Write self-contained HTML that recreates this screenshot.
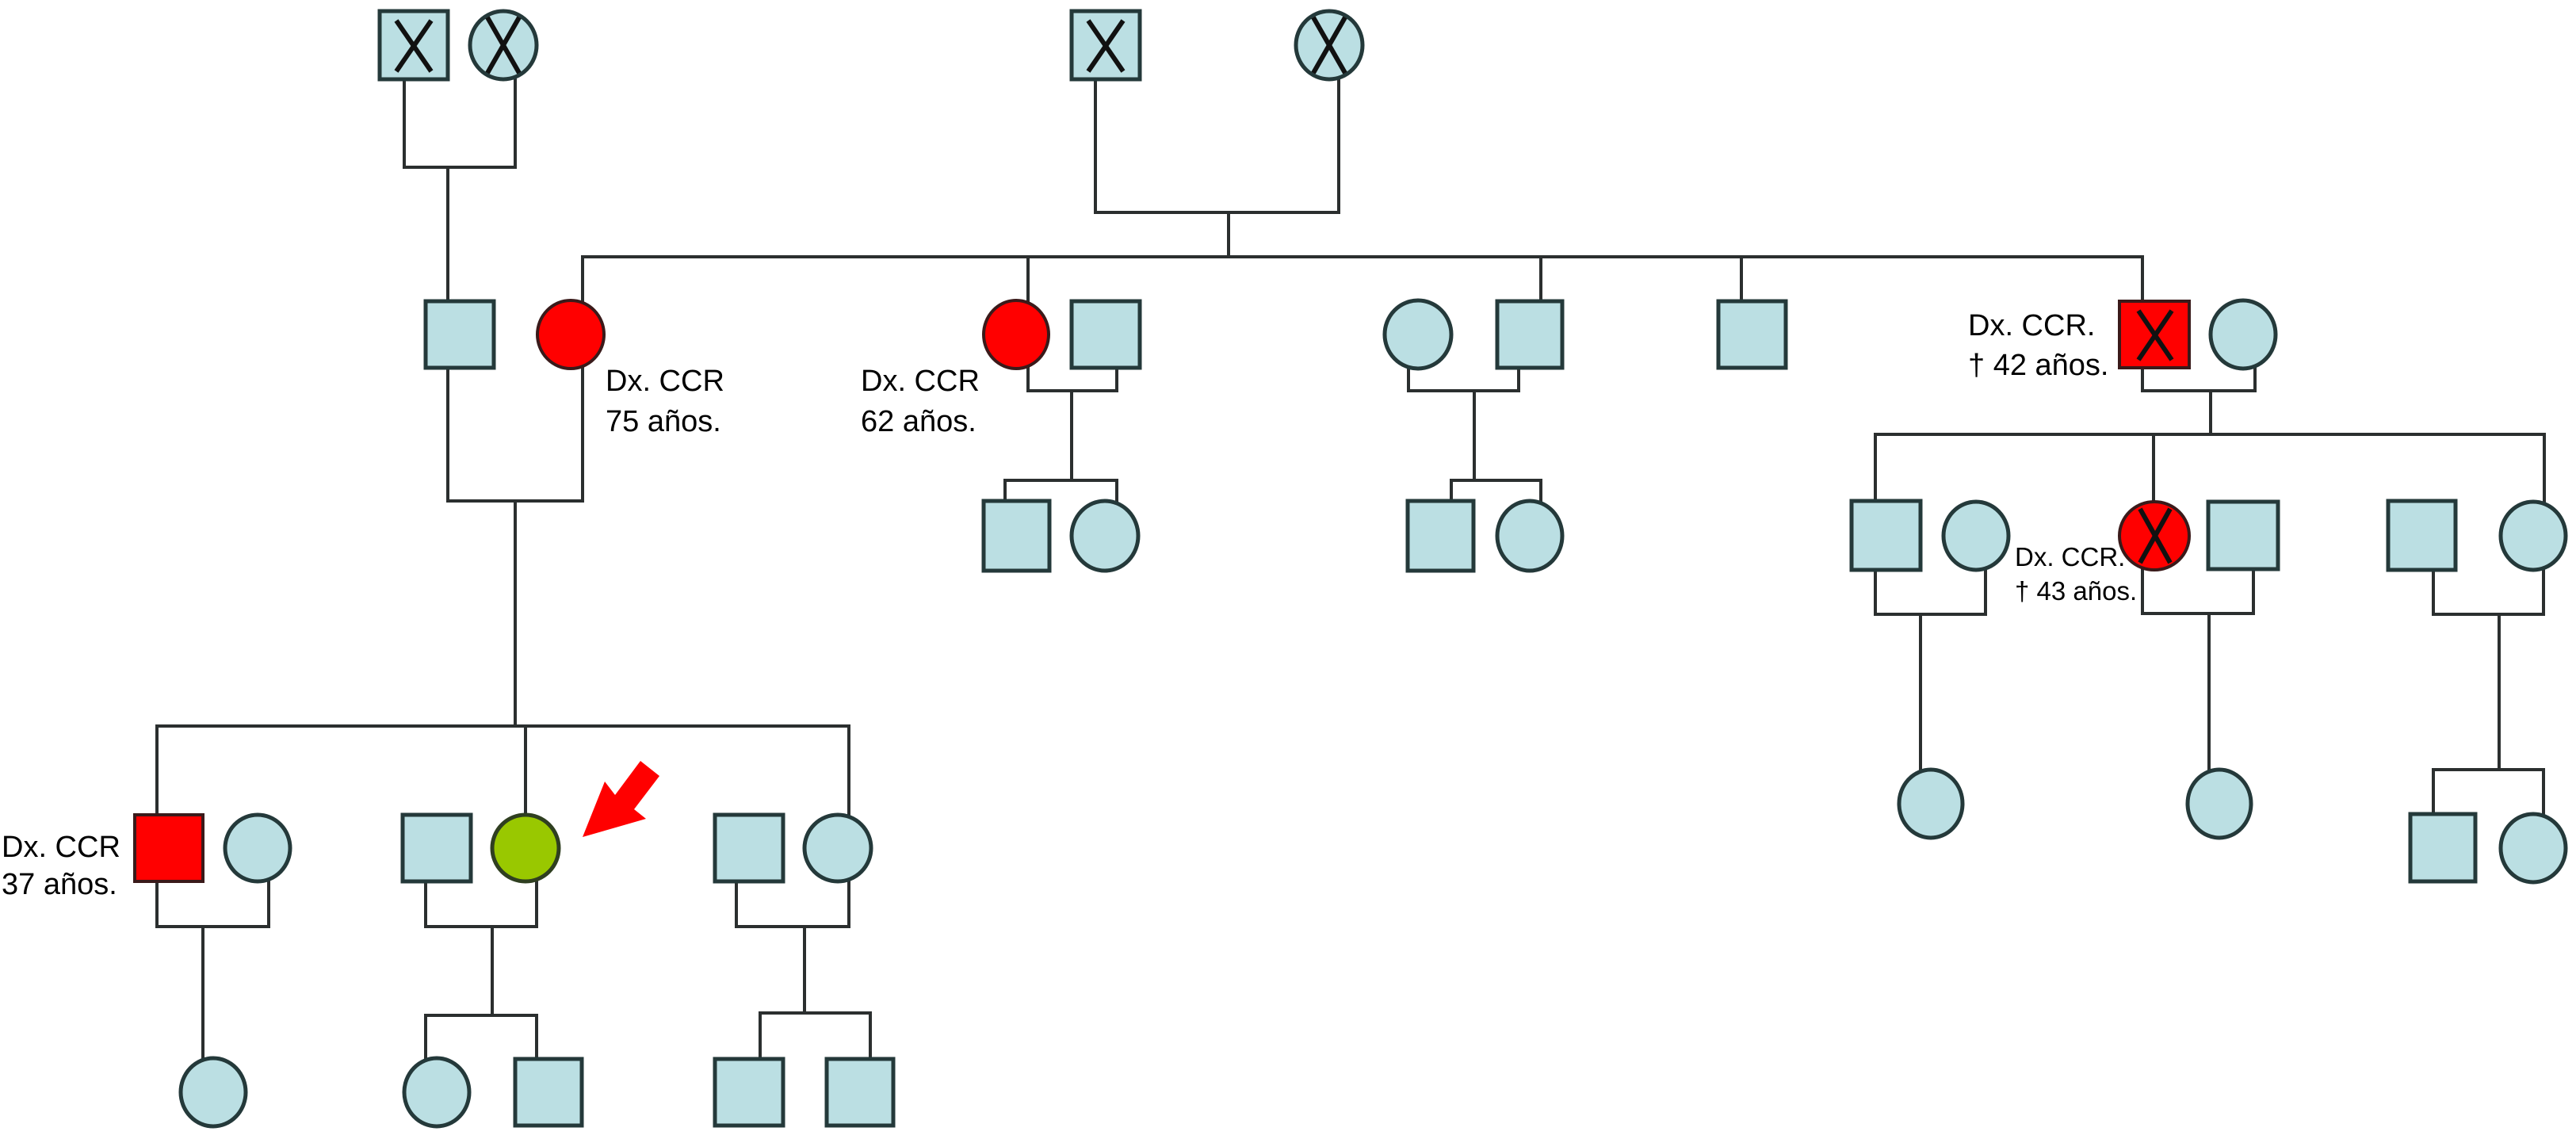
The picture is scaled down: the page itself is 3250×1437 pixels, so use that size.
<!DOCTYPE html>
<html><head><meta charset="utf-8"><style>
html,body{margin:0;padding:0;background:#fff;}
svg{display:block;}
text{font-family:"Liberation Sans",Arial,sans-serif;fill:#000;}
</style></head><body>
<svg width="3250" height="1437" viewBox="0 0 3250 1437" xmlns="http://www.w3.org/2000/svg">
<defs>
<style>
.l{stroke:#2b2f2f;stroke-width:4;fill:none;stroke-linecap:square}
.b{fill:#bbdfe3;stroke:#24393a;stroke-width:5}
.r{fill:#ff0000;stroke:#3a1a1a;stroke-width:4}
.g{fill:#99c800;stroke:#2f3f20;stroke-width:5}
.x{stroke:#111;stroke-width:6;fill:none}
.t{font-size:38px}
.s{font-size:33px}
</style>
</defs>
<!-- lines -->
<g class="l">
<!-- top-left grandparents -->
<polyline points="510,100 510,211 650,211 650,100"/>
<line x1="565" y1="211" x2="565" y2="380"/>
<!-- top-center grandparents -->
<polyline points="1382,100 1382,268 1689,268 1689,100"/>
<line x1="1550" y1="268" x2="1550" y2="324"/>
<!-- sibship gen2 -->
<line x1="735" y1="324" x2="2703" y2="324"/>
<line x1="735" y1="324" x2="735" y2="380"/>
<line x1="1297" y1="324" x2="1297" y2="380"/>
<line x1="1944" y1="324" x2="1944" y2="380"/>
<line x1="2197" y1="324" x2="2197" y2="380"/>
<line x1="2703" y1="324" x2="2703" y2="380"/>
<!-- couple 1 -->
<polyline points="565,464 565,632 735,632 735,464"/>
<line x1="650" y1="632" x2="650" y2="916"/>
<line x1="198" y1="916" x2="1071" y2="916"/>
<line x1="198" y1="916" x2="198" y2="1028"/>
<line x1="650" y1="916" x2="663" y2="916"/>
<line x1="663" y1="916" x2="663" y2="1028"/>
<line x1="1071" y1="916" x2="1071" y2="1028"/>
<!-- couple 2 -->
<polyline points="1297,464 1297,493 1409,493 1409,464"/>
<line x1="1352" y1="493" x2="1352" y2="606"/>
<polyline points="1268,632 1268,606 1409,606 1409,632"/>
<!-- couple 3 -->
<polyline points="1777,464 1777,493 1916,493 1916,464"/>
<line x1="1860" y1="493" x2="1860" y2="606"/>
<polyline points="1831,632 1831,606 1944,606 1944,632"/>
<!-- couple 5 -->
<polyline points="2703,464 2703,493 2845,493 2845,464"/>
<line x1="2789" y1="493" x2="2789" y2="548"/>
<line x1="2366" y1="548" x2="3210" y2="548"/>
<line x1="2366" y1="548" x2="2366" y2="632"/>
<line x1="2717" y1="548" x2="2717" y2="633"/>
<line x1="3210" y1="548" x2="3210" y2="632"/>
<!-- gen3 right couples -->
<polyline points="2366,718 2366,775 2505,775 2505,718"/>
<line x1="2423" y1="775" x2="2423" y2="971"/>
<polyline points="2703,718 2703,774 2843,774 2843,718"/>
<line x1="2787" y1="774" x2="2787" y2="971"/>
<polyline points="3070,718 3070,775 3209,775 3209,718"/>
<line x1="3153" y1="775" x2="3153" y2="971"/>
<polyline points="3070,1027 3070,971 3209,971 3209,1027"/>
<!-- gen3 left couples -->
<polyline points="198,1112 198,1169 339,1169 339,1112"/>
<line x1="256" y1="1169" x2="256" y2="1336"/>
<polyline points="537,1112 537,1169 677,1169 677,1112"/>
<line x1="621" y1="1169" x2="621" y2="1281"/>
<polyline points="537,1336 537,1281 677,1281 677,1336"/>
<polyline points="929,1112 929,1169 1071,1169 1071,1112"/>
<line x1="1015" y1="1169" x2="1015" y2="1278"/>
<polyline points="959,1336 959,1278 1098,1278 1098,1336"/>
</g>

<!-- gen1 -->
<rect class="b" x="479" y="14" width="86" height="86"/>
<line class="x" x1="500" y1="26" x2="544" y2="90"/><line class="x" x1="544" y1="26" x2="500" y2="90"/>
<ellipse class="b" cx="635" cy="57" rx="42" ry="43"/>
<line class="x" x1="615" y1="22" x2="655" y2="92"/><line class="x" x1="655" y1="22" x2="615" y2="92"/>
<rect class="b" x="1352" y="14" width="86" height="86"/>
<line class="x" x1="1373" y1="26" x2="1417" y2="90"/><line class="x" x1="1417" y1="26" x2="1373" y2="90"/>
<ellipse class="b" cx="1677" cy="57" rx="42" ry="43"/>
<line class="x" x1="1657" y1="22" x2="1697" y2="92"/><line class="x" x1="1697" y1="22" x2="1657" y2="92"/>

<!-- gen2 -->
<rect class="b" x="537" y="380" width="86" height="84"/>
<ellipse class="r" cx="720" cy="422" rx="42" ry="43"/>
<ellipse class="r" cx="1282" cy="422" rx="41" ry="43"/>
<rect class="b" x="1352" y="380" width="86" height="84"/>
<ellipse class="b" cx="1789" cy="422" rx="42" ry="43"/>
<rect class="b" x="1889" y="380" width="82" height="84"/>
<rect class="b" x="2168" y="380" width="85" height="84"/>
<rect class="r" x="2674" y="380" width="88" height="84"/>
<line class="x" x1="2698" y1="392" x2="2740" y2="454"/><line class="x" x1="2740" y1="392" x2="2698" y2="454"/>
<ellipse class="b" cx="2830" cy="422" rx="41" ry="43"/>

<!-- gen3 middle/right -->
<rect class="b" x="1241" y="632" width="83" height="88"/>
<ellipse class="b" cx="1394" cy="676" rx="42" ry="44"/>
<rect class="b" x="1776" y="632" width="83" height="88"/>
<ellipse class="b" cx="1930" cy="676" rx="41" ry="44"/>
<rect class="b" x="2336" y="632" width="87" height="87"/>
<ellipse class="b" cx="2493" cy="676" rx="41" ry="43"/>
<ellipse class="r" cx="2718" cy="676" rx="44" ry="43"/>
<line class="x" x1="2700" y1="642" x2="2738" y2="710"/><line class="x" x1="2738" y1="642" x2="2700" y2="710"/>
<rect class="b" x="2786" y="633" width="88" height="85"/>
<rect class="b" x="3013" y="632" width="85" height="87"/>
<ellipse class="b" cx="3196" cy="676" rx="41" ry="43"/>

<!-- gen4 right -->
<ellipse class="b" cx="2436" cy="1014" rx="40" ry="43"/>
<ellipse class="b" cx="2800" cy="1014" rx="40" ry="43"/>
<rect class="b" x="3041" y="1027" width="82" height="85"/>
<ellipse class="b" cx="3196" cy="1070" rx="41" ry="43"/>

<!-- gen3 left -->
<rect class="r" x="170" y="1028" width="86" height="84"/>
<ellipse class="b" cx="325" cy="1070" rx="41" ry="42"/>
<rect class="b" x="508" y="1028" width="86" height="84"/>
<ellipse class="g" cx="663" cy="1070" rx="42" ry="42"/>
<rect class="b" x="902" y="1028" width="86" height="84"/>
<ellipse class="b" cx="1057" cy="1070" rx="42" ry="42"/>

<!-- gen4 left -->
<ellipse class="b" cx="269" cy="1378" rx="41" ry="43"/>
<ellipse class="b" cx="551" cy="1378" rx="41" ry="43"/>
<rect class="b" x="650" y="1336" width="84" height="84"/>
<rect class="b" x="902" y="1336" width="86" height="84"/>
<rect class="b" x="1043" y="1336" width="84" height="84"/>

<!-- arrow -->
<polygon points="735,1056 763,986 776,1003 808,960 832,979 800,1021 815,1033" fill="#ff0000"/>

<!-- labels -->
<text class="t" x="764" y="493">Dx. CCR</text>
<text class="t" x="764" y="544">75 años.</text>
<text class="t" x="1086" y="493">Dx. CCR</text>
<text class="t" x="1086" y="544">62 años.</text>
<text class="t" x="2483" y="423">Dx. CCR.</text>
<text class="t" x="2483" y="473">† 42 años.</text>
<text class="s" x="2542" y="714">Dx. CCR.</text>
<text class="s" x="2542" y="757">† 43 años.</text>
<text class="t" x="2" y="1081">Dx. CCR</text>
<text class="t" x="2" y="1128">37 años.</text>
</svg>
</body></html>
